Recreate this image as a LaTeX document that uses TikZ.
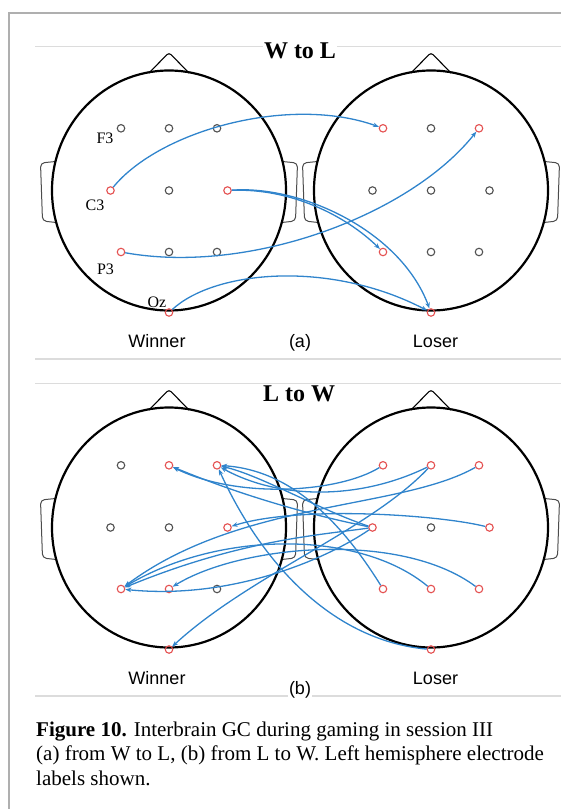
\documentclass[tikz,border=0pt]{standalone}
\usepackage{fontspec}
\setmainfont{Liberation Serif}
\newfontfamily\sansf{Liberation Sans}
\usetikzlibrary{arrows.meta}
\definecolor{arrowblue}{RGB}{48,132,204}
\definecolor{elred}{RGB}{228,80,80}
\definecolor{elgray}{RGB}{80,80,80}
\definecolor{framegray}{RGB}{175,175,175}
\definecolor{rulegray}{RGB}{220,220,220}
\newcommand\drawhead[2]{%
  \draw[earline] (#1-113.5,#2-29) -- (#1-128.5,#2-27.5) -- (#1-126.5,#2+30.5) -- (#1-112.8,#2+32);
  \draw[earline] (#1+113.5,#2-29) -- (#1+128.5,#2-27.5) -- (#1+126.5,#2+30.5) -- (#1+112.8,#2+32);
  \draw[noseline] (#1-20,#2-117.5) -- (#1,#2-138) -- (#1+20,#2-117.5);
  \draw[headline] (#1,#2) ellipse [x radius=117,y radius=120];
}
\newcommand\el[4]{\node[#4] (#1) at (#2,#3) {};}
\begin{document}
\begin{tikzpicture}[x=1pt,y=-1pt,
  headline/.style={line width=2.2pt,black},
  earline/.style={line width=1pt,black!70,rounded corners=4pt},
  noseline/.style={line width=1.1pt,black,rounded corners=3pt},
  ered/.style={circle,draw=elred,line width=1.1pt,minimum size=7.5pt,inner sep=0pt},
  eblk/.style={circle,draw=elgray,line width=1.1pt,minimum size=7.5pt,inner sep=0pt},
  conn/.style={draw=arrowblue,line width=1.3pt,-{Stealth[length=6pt,width=4.5pt]}},
  elabel/.style={font=\fontsize{16}{16}\selectfont,inner sep=0pt},
  slabel/.style={font=\sansf\fontsize{18}{18}\selectfont,inner sep=0pt},
  ttl/.style={font=\bfseries\fontsize{24}{24}\selectfont,fill=white,inner sep=1pt},
  rulel/.style={draw=rulegray,line width=1.2pt},
  framel/.style={draw=framegray,line width=1.8pt},
  capt/.style={font=\fontsize{21}{21}\selectfont,anchor=base west,inner sep=0pt}]
\useasboundingbox (0,0) rectangle (561,809);
% frame
\coordinate (f1) at (9,809); \coordinate (f2) at (9,12.7); \coordinate (f3) at (561,12.7);
\draw[framel] (f1) -- (f2) -- (f3);
% rules
\coordinate (r1a) at (35,46.7); \coordinate (r1b) at (561,46.7);
\coordinate (r2a) at (35,359); \coordinate (r2b) at (561,359);
\coordinate (r3a) at (35,383.3); \coordinate (r3b) at (561,383.3);
\coordinate (r4a) at (35,696); \coordinate (r4b) at (561,696);
\draw[rulel] (r1a) -- (r1b); \draw[rulel] (r2a) -- (r2b);
\draw[rulel] (r3a) -- (r3b); \draw[rulel] (r4a) -- (r4b);
% ---------------- panel (a)
\node[ttl] (ta) at (300,51) {W to L};
\drawhead{169}{190.5}
\drawhead{431}{190.5}
\el{aWF3}{121}{128.3}{eblk}\el{aWFz}{169}{128.3}{eblk}\el{aWF4}{217}{128.3}{eblk}
\el{aWC3}{110.5}{190.5}{ered}\el{aWCz}{169}{190.5}{eblk}\el{aWC4}{227.5}{190.5}{ered}
\el{aWP3}{121}{252}{ered}\el{aWPz}{169}{252}{eblk}\el{aWP4}{217}{252}{eblk}
\el{aWOz}{169}{312.5}{ered}
\el{aLF3}{383}{128.3}{ered}\el{aLFz}{431}{128.3}{eblk}\el{aLF4}{479}{128.3}{ered}
\el{aLC3}{372.5}{190.5}{eblk}\el{aLCz}{431}{190.5}{eblk}\el{aLC4}{489.5}{190.5}{eblk}
\el{aLP3}{383}{252}{ered}\el{aLPz}{431}{252}{eblk}\el{aLP4}{479}{252}{eblk}
\el{aLOz}{431}{312.5}{ered}
\node[elabel] (lF3) at (105,138.5) {F3};
\node[elabel] (lC3) at (95,205) {C3};
\node[elabel] (lP3) at (105.5,269) {P3};
\node[elabel] (lOz) at (157,302.5) {Oz};
\draw[conn] (aWC3) .. controls (160,130) and (290,95) .. (aLF3);
\draw[conn] (aWP3) .. controls (250,275) and (410,215) .. (aLF4);
\draw[conn] (aWC4) .. controls (290,188) and (345,215) .. (aLP3);
\draw[conn] (aWC4) .. controls (300,185) and (400,230) .. (aLOz);
\draw[conn] (aWOz) .. controls (215,270) and (330,260) .. (aLOz);
\node[slabel] (wa) at (157,341.5) {Winner};
\node[slabel] (la) at (435.5,341.5) {Loser};
\node[slabel] (pa) at (300,343) {(a)};
% ---------------- panel (b)
\node[ttl] (tb) at (299,394) {L to W};
\drawhead{169}{527.5}
\drawhead{431}{527.5}
\el{bWF3}{121}{465.3}{eblk}\el{bWFz}{169}{465.3}{ered}\el{bWF4}{217}{465.3}{ered}
\el{bWC3}{110.5}{527.5}{eblk}\el{bWCz}{169}{527.5}{eblk}\el{bWC4}{227.5}{527.5}{ered}
\el{bWP3}{121}{589}{ered}\el{bWPz}{169}{589}{ered}\el{bWP4}{217}{589}{eblk}
\el{bWOz}{169}{649.5}{ered}
\el{bLF3}{383}{465.3}{ered}\el{bLFz}{431}{465.3}{ered}\el{bLF4}{479}{465.3}{ered}
\el{bLC3}{372.5}{527.5}{ered}\el{bLCz}{431}{527.5}{eblk}\el{bLC4}{489.5}{527.5}{ered}
\el{bLP3}{383}{589}{ered}\el{bLPz}{431}{589}{ered}\el{bLP4}{479}{589}{ered}
\el{bLOz}{431}{649.5}{ered}
\draw[conn] (bLF3) .. controls (340,492) and (240,500) .. (bWFz);
\draw[conn] (bLC3) .. controls (310,515) and (240,495) .. (bWFz);
\draw[conn] (bLFz) .. controls (360,500) and (280,500) .. (bWF4);
\draw[conn] (bLC3) .. controls (320,510) and (260,475) .. (bWF4);
\draw[conn] (bLOz) .. controls (330,640) and (260,560) .. (bWF4);
\draw[conn] (bLP3) .. controls (340,520) and (290,470) .. (bWF4);
\draw[conn] (bLC4) .. controls (440,515) and (300,505) .. (bWC4);
\draw[conn] (bLF4) .. controls (400,510) and (240,500) .. (bWP3);
\draw[conn] (bLC3) .. controls (325,560) and (230,600) .. (bWP3);
\draw[conn] (bLPz) .. controls (360,530) and (220,530) .. (bWP3);
\draw[conn] (bLC3) .. controls (320,535) and (240,540) .. (bWP3);
\draw[conn] (bLP4) .. controls (400,530) and (240,545) .. (bWPz);
\draw[conn] (bLFz) .. controls (370,530) and (250,575) .. (bWOz);
\node[slabel] (wb) at (157,678) {Winner};
\node[slabel] (lb) at (435.5,678) {Loser};
\node[slabel,fill=white,inner sep=1pt] (pb) at (300,690) {(b)};
% caption
\node[capt] (c1) at (36,736) {\textbf{Figure 10.} Interbrain GC during gaming in session III};
\node[capt] (c2) at (36,760.5) {(a) from W to L, (b) from L to W. Left hemisphere electrode};
\node[capt] (c3) at (36,785) {labels shown.};
\end{tikzpicture}
\end{document}
